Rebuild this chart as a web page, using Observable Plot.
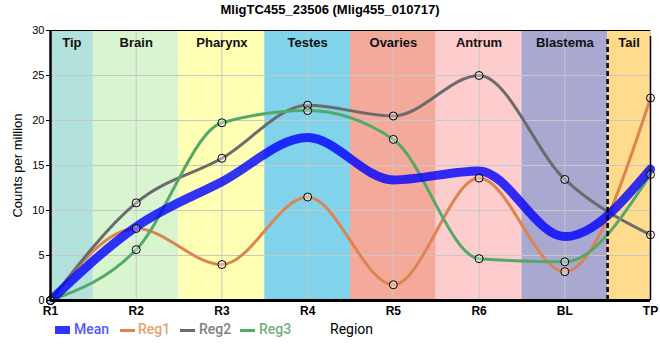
<!DOCTYPE html>
<html><head><meta charset="utf-8">
<script src="https://cdn.jsdelivr.net/npm/d3@7"></script>
<script src="https://cdn.jsdelivr.net/npm/@observablehq/plot@0.6"></script>
<style>
body{margin:0;background:#fff;}
#wrap{position:relative;width:660px;height:360px;font-family:"Liberation Sans",Arial,sans-serif;}
#title{position:absolute;top:2px;left:0;width:660px;text-align:center;font-weight:bold;font-size:13px;color:#000;}
#chart{position:absolute;top:0;left:0;}
.lg{position:absolute;font-family:Roboto,"Liberation Sans",sans-serif;font-size:14px;font-weight:500;line-height:16px;}
.sw{position:absolute;}
</style></head>
<body>
<div id="wrap">
  <div id="chart"></div>
  <div id="title">MligTC455_23506 (Mlig455_010717)</div>
  <div id="legend"></div>
</div>
<script>
const xLabels = ["R1","R2","R3","R4","R5","R6","BL","TP"];
const regionNames = ["Tip","Brain","Pharynx","Testes","Ovaries","Antrum","Blastema","Tail"];
const regionColors = ["#b3e2dd","#d8f5d0","#ffffb3","#80d3eb","#f4aa9b","#fdcccc","#a8a8d0","#fedb8d"];
const reg1 = [0, 8.0, 4.0, 11.5, 1.75, 13.6, 3.2, 22.5];
const reg2 = [0, 10.85, 15.8, 21.7, 20.5, 25.0, 13.45, 7.3];
const reg3 = [0, 5.65, 19.75, 21.1, 17.9, 4.65, 4.3, 14.0];
const meanVals = [0, 8.2, 13.2, 18.1, 13.4, 14.4, 7.1, 14.6];
const seriesNames = ["Mean","Reg1","Reg2","Reg3"];
const seriesColors = ["#0000ff","#dd8452","#6b6b6b","#55a868"];
const legendTextColors = ["#5555ff","#e8a070","#808080","#70b080"];
const yTicks = [0,5,10,15,20,25,30];
const tailBoundary = 6.5;

const n = xLabels.length;
const bands = regionNames.map((name, i) => ({
  name, fill: regionColors[i],
  x1: Math.max(0, i - 0.5), x2: Math.min(n - 1, i + 0.5),
  cx: (Math.max(0, i - 0.5) + Math.min(n - 1, i + 0.5)) / 2
}));
const regs = [reg1, reg2, reg3];
const regData = [];
regs.forEach((arr, k) => arr.forEach((v, i) => regData.push({s: seriesNames[k+1], i, v, c: seriesColors[k+1]})));
const meanData = meanVals.map((v, i) => ({i, v}));

const plot = Plot.plot({
  width: 660, height: 360,
  marginTop: 30, marginBottom: 60, marginLeft: 50, marginRight: 10,
  style: {fontFamily: "'Liberation Sans', Arial, sans-serif", fontSize: "11px", background: "transparent", overflow: "visible"},
  x: {domain: [0, n - 1]},
  y: {domain: [0, 30]},
  marks: [
    Plot.rect(bands, {x1: "x1", x2: "x2", y1: 0, y2: 30, fill: "fill"}),
    Plot.gridX(d3.range(n), {stroke: "#c8c8c8", strokeOpacity: 1, strokeWidth: 1}),
    Plot.gridY(yTicks, {stroke: "#c8c8c8", strokeOpacity: 1, strokeWidth: 1}),
    Plot.text(bands, {x: "cx", y: 30, text: "name", dy: 12, fontWeight: "bold", fontSize: 13, fill: "#111"}),
    Plot.line(regData, {x: "i", y: "v", z: "s", stroke: "c", strokeWidth: 3, curve: "monotone-x"}),
    Plot.line(meanData, {x: "i", y: "v", stroke: seriesColors[0], strokeWidth: 9, strokeOpacity: 0.8, curve: "monotone-x"}),
    Plot.dot(regData, {x: "i", y: "v", r: 4, stroke: "black", strokeWidth: 1, fill: "white", fillOpacity: 0.35}),
    Plot.ruleX([tailBoundary], {y1: 0, y2: 30, stroke: "black", strokeWidth: 2.5, strokeDasharray: "5,3", insetBottom: -6}),
    Plot.ruleX([n - 1], {y1: 0, y2: 30, stroke: "black", strokeWidth: 1.5, insetBottom: -6}),
    Plot.ruleY([30], {stroke: "black", strokeWidth: 1}),
    Plot.ruleX([0], {y1: 0, y2: 30, stroke: "black", strokeWidth: 2.5}),
    Plot.ruleY([0], {stroke: "black", strokeWidth: 3}),
    Plot.axisX({ticks: d3.range(n), tickFormat: i => xLabels[i], tickSize: 0, tickPadding: 6, fontWeight: "bold", fontSize: 12, fill: "black", label: null}),
    Plot.axisY({ticks: yTicks, tickSize: 4, tickPadding: 2, fontSize: 11, label: "Counts per million", labelAnchor: "center", labelArrow: "none", labelOffset: 38})
  ]
});
document.getElementById("chart").appendChild(plot);
const ylab = plot.querySelectorAll("[aria-label='y-axis label'] text");
ylab.forEach(t => { t.style.fontSize = "13px"; t.setAttribute("fill", "black"); });

const legend = document.getElementById("legend");
const swX = [55, 120, 180, 240], txX = [74, 138, 199, 259];
seriesNames.forEach((name, k) => {
  const sw = document.createElement("div");
  sw.className = "sw";
  const h = k === 0 ? 8 : 3;
  sw.style.cssText = `left:${swX[k]}px;top:${330 - h/2}px;width:15px;height:${h}px;background:${seriesColors[k]};opacity:${k===0?0.8:1}`;
  legend.appendChild(sw);
  const t = document.createElement("div");
  t.className = "lg";
  t.style.cssText = `left:${txX[k]}px;top:321px;color:${legendTextColors[k]}`;
  t.textContent = name;
  legend.appendChild(t);
});
const r = document.createElement("div");
r.className = "lg";
r.style.cssText = "left:330px;top:321px;color:#000;font-weight:400";
r.textContent = "Region";
legend.appendChild(r);
</script>
</body></html>
